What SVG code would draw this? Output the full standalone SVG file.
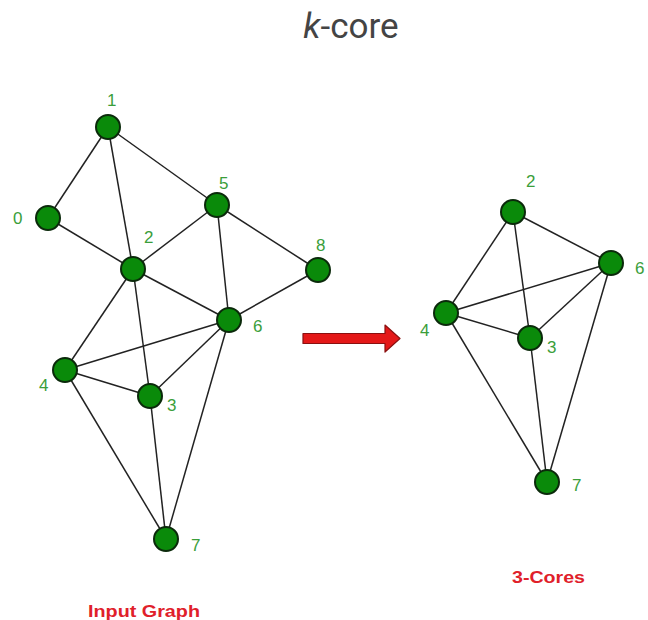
<svg xmlns="http://www.w3.org/2000/svg" width="648" height="620" viewBox="0 0 648 620">
  <style>
    .edge { stroke: #222; stroke-width: 1.5; fill: none; }
    .node circle { fill: #0a8a0a; stroke: #0b2a0b; stroke-width: 2; }
    .lbl { font-family: "Liberation Sans", Arial, sans-serif; font-size: 17px; fill: #3a9e3a; }
    .cap { font-family: "Liberation Sans", Arial, sans-serif; font-size: 17px; font-weight: bold; fill: #e0202a; }
    .title { font-family: Roboto, "Liberation Sans", sans-serif; font-size: 35px; fill: #444; text-anchor: middle; }
  </style>
  <rect width="648" height="620" fill="#fff"/>

  <text class="title" x="351" y="38"><tspan font-style="italic">k</tspan>-core</text>

  <!-- connectors -->
  <g id="connectors">
    <!-- input graph -->
    <line class="edge" x1="108" y1="127" x2="48" y2="218"/>
    <line class="edge" x1="108" y1="127" x2="133" y2="269"/>
    <line class="edge" x1="108" y1="127" x2="217" y2="205"/>
    <line class="edge" x1="48" y1="218" x2="133" y2="269"/>
    <line class="edge" x1="133" y1="269" x2="217" y2="205"/>
    <line class="edge" x1="133" y1="269" x2="229" y2="320"/>
    <line class="edge" x1="217" y1="205" x2="229" y2="320"/>
    <line class="edge" x1="217" y1="205" x2="318" y2="270"/>
    <line class="edge" x1="318" y1="270" x2="229" y2="320"/>
    <line class="edge" x1="133" y1="269" x2="65" y2="370"/>
    <line class="edge" x1="133" y1="269" x2="150" y2="396"/>
    <line class="edge" x1="65" y1="370" x2="229" y2="320"/>
    <line class="edge" x1="65" y1="370" x2="150" y2="396"/>
    <line class="edge" x1="150" y1="396" x2="229" y2="320"/>
    <line class="edge" x1="65" y1="370" x2="166" y2="539"/>
    <line class="edge" x1="150" y1="396" x2="166" y2="539"/>
    <line class="edge" x1="229" y1="320" x2="166" y2="539"/>
    <!-- 3-core -->
    <line class="edge" x1="513" y1="212" x2="446" y2="313"/>
    <line class="edge" x1="513" y1="212" x2="530" y2="338"/>
    <line class="edge" x1="513" y1="212" x2="611" y2="263"/>
    <line class="edge" x1="446" y1="313" x2="611" y2="263"/>
    <line class="edge" x1="446" y1="313" x2="530" y2="338"/>
    <line class="edge" x1="530" y1="338" x2="611" y2="263"/>
    <line class="edge" x1="446" y1="313" x2="547" y2="482"/>
    <line class="edge" x1="530" y1="338" x2="547" y2="482"/>
    <line class="edge" x1="611" y1="263" x2="547" y2="482"/>
    <!-- transition arrow -->
    <path d="M303,333.5 L385,333.5 L385,325 L400,338.5 L385,352 L385,343.5 L303,343.5 Z" fill="#e41818" stroke="#8a1010" stroke-width="1.2" stroke-linejoin="round"/>
  </g>

  <!-- input graph nodes -->
  <g id="n1" class="node"><circle cx="108" cy="127" r="12"/><text class="lbl" x="107" y="106">1</text></g>
  <g id="n0" class="node"><circle cx="48" cy="218" r="12"/><text class="lbl" x="13" y="224">0</text></g>
  <g id="n5" class="node"><circle cx="217" cy="205" r="12"/><text class="lbl" x="219" y="189">5</text></g>
  <g id="n2" class="node"><circle cx="133" cy="269" r="12"/><text class="lbl" x="144" y="243">2</text></g>
  <g id="n8" class="node"><circle cx="318" cy="270" r="12"/><text class="lbl" x="316" y="251">8</text></g>
  <g id="n6" class="node"><circle cx="229" cy="320" r="12"/><text class="lbl" x="253" y="332">6</text></g>
  <g id="n4" class="node"><circle cx="65" cy="370" r="12"/><text class="lbl" x="39" y="391">4</text></g>
  <g id="n3" class="node"><circle cx="150" cy="396" r="12"/><text class="lbl" x="167" y="411">3</text></g>
  <g id="n7" class="node"><circle cx="166" cy="539" r="12"/><text class="lbl" x="191" y="551">7</text></g>

  <!-- 3-core nodes -->
  <g id="c2" class="node"><circle cx="513" cy="212" r="12"/><text class="lbl" x="526" y="187">2</text></g>
  <g id="c6" class="node"><circle cx="611" cy="263" r="12"/><text class="lbl" x="635" y="274">6</text></g>
  <g id="c4" class="node"><circle cx="446" cy="313" r="12"/><text class="lbl" x="420" y="336">4</text></g>
  <g id="c3" class="node"><circle cx="530" cy="338" r="12"/><text class="lbl" x="547" y="353">3</text></g>
  <g id="c7" class="node"><circle cx="547" cy="482" r="12"/><text class="lbl" x="572" y="491">7</text></g>

  <text class="cap" x="88" y="617" textLength="112" lengthAdjust="spacingAndGlyphs">Input Graph</text>
  <text class="cap" x="512" y="583" textLength="73" lengthAdjust="spacingAndGlyphs">3-Cores</text>
</svg>
